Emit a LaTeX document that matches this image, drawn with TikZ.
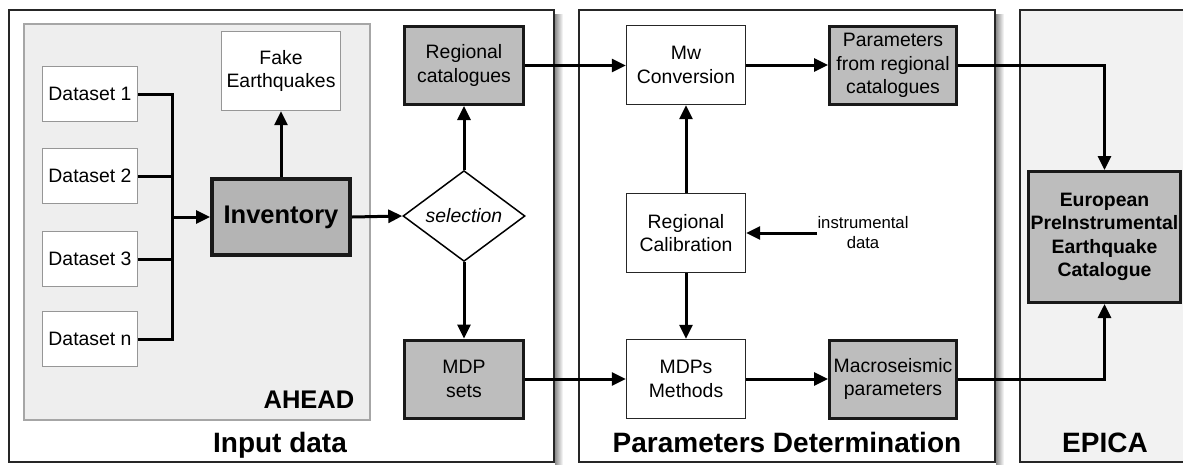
\documentclass[tikz,border=0pt]{standalone}
\usepackage{fontspec}
\setmainfont{Liberation Sans}
\usetikzlibrary{arrows.meta, shapes.geometric}
\definecolor{boxgrey}{RGB}{189, 189, 189}
\definecolor{invgrey}{RGB}{180, 180, 180}
\definecolor{aheadfill}{RGB}{238, 238, 238}
\definecolor{aheadline}{RGB}{166, 166, 166}
\definecolor{epicafill}{RGB}{242, 242, 242}
\definecolor{thinline}{RGB}{150, 150, 150}
\newcommand{\boxfont}{\fontsize{19.4}{23.5}\selectfont}
\newcommand{\smallfont}{\fontsize{16.7}{20}\selectfont}
\newcommand{\midfont}{\fontsize{25.5}{28}\selectfont}
\newcommand{\titlefont}{\fontsize{28}{32}\selectfont}

\begin{document}
\begin{tikzpicture}[x=1pt, y=-1pt, thick,
  >={Triangle[length=14pt, width=13pt]},
  flow/.style={->, line width=3pt},
  wire/.style={line width=3pt},
  dset/.style={draw=thinline, fill=white, line width=1.4pt, minimum width=95,
    minimum height=55, inner sep=0, align=center, font=\boxfont},
  whitebox/.style={draw=black!85, fill=white, line width=1.4pt, minimum width=119,
    minimum height=79, inner sep=0, align=center, font=\boxfont},
  greybox/.style={draw=black!90, fill=boxgrey, line width=3pt, minimum width=119,
    minimum height=78, inner sep=0, align=center, font=\boxfont},
  panel/.style={draw=black!85, line width=1.6pt},
]
  \useasboundingbox (0, 0) rectangle (1183, 464);

  % panels
  \shade[left color=black!45, right color=white] (555, 14) rectangle (563, 464);
  \shade[left color=black!45, right color=white] (996, 14) rectangle (1004, 464);
  \filldraw[panel, fill=white] (9, 10) rectangle (554, 462);
  \filldraw[panel, fill=white] (579, 10) rectangle (995, 462);
  \filldraw[panel, fill=epicafill] (1020, 10) rectangle (1195, 462);
  \filldraw[fill=aheadfill, draw=aheadline, line width=2.2pt] (24, 24) rectangle (370, 420);

  \node[anchor=base, font=\titlefont\bfseries] (tinput) at (280, 452) {Input data};
  \node[anchor=base, font=\titlefont\bfseries] (tparam) at (787, 452) {Parameters Determination};
  \node[anchor=base, font=\titlefont\bfseries] (tepica) at (1105, 452) {EPICA};
  \node[anchor=base, font=\midfont\bfseries] (tahead) at (309, 408) {AHEAD};

  % input data
  \node[dset] (d1) at (90, 94) {Dataset 1};
  \node[dset] (d2) at (90, 176) {Dataset 2};
  \node[dset] (d3) at (90, 259) {Dataset 3};
  \node[dset] (dn) at (90, 339) {Dataset n};
  \node[greybox, fill=invgrey, line width=4pt, minimum width=138, minimum height=76,
    font=\midfont\bfseries] (inv) at (281, 217) {Inventory};
  \node[dset, minimum width=119, minimum height=79] (fake) at (281, 71) {Fake\\Earthquakes};
  \node[diamond, draw, fill=white, line width=1.5pt, minimum width=122, minimum height=63,
    inner sep=0, font=\boxfont\itshape] (sel) at (464, 216) {selection};
  \node[greybox] (regcat) at (464, 65.5) {Regional\\catalogues};
  \node[greybox] (mdpset) at (464, 379) {MDP\\sets};

  \coordinate (bus) at (172, 217);
  \draw[wire] (d1.east) -| (bus);
  \draw[wire] (d2.east) -| (bus);
  \draw[wire] (d3.east) -| (bus);
  \draw[wire] (dn.east) -| (bus);
  \draw[flow] (bus) -- (inv.west);
  \draw[flow] (inv.north) -- (fake.south);
  \draw[flow] (inv.east) -- (sel.west);
  \draw[flow] (sel.north) -- (regcat.south);
  \draw[flow] (sel.south) -- (mdpset.north);

  % parameters determination
  \node[whitebox] (mw) at (686, 65) {Mw\\Conversion};
  \node[whitebox] (calib) at (686, 233) {Regional\\Calibration};
  \node[whitebox] (mdps) at (686, 379) {MDPs\\Methods};
  \node[greybox, minimum width=127] (parreg) at (893, 65.5) {Parameters\\from regional\\catalogues};
  \node[greybox, minimum width=127] (macro) at (893, 379) {Macroseismic\\parameters};
  \node[font=\smallfont, align=center, inner xsep=0] (instr) at (863, 233) {instrumental\\data};

  \draw[flow] (regcat.east) -- (regcat.east -| mw.west);
  \draw[flow] (mw.east) -- (mw.east -| parreg.west);
  \draw[flow] (calib.north) -- (mw.south);
  \draw[flow] (calib.south) -- (mdps.north);
  \draw[flow] (instr.west) -- (calib.east);
  \draw[flow] (mdpset.east) -- (mdps.west);
  \draw[flow] (mdps.east) -- (macro.west);

  % epica
  \node[greybox, minimum width=152, minimum height=131,
    font=\boxfont\bfseries] (epc) at (1104.5, 237) {European\\PreInstrumental\\Earthquake\\Catalogue};
  \draw[flow] (parreg.east) -| (epc.north);
  \draw[flow] (macro.east) -| (epc.south);

\end{tikzpicture}
\end{document}
